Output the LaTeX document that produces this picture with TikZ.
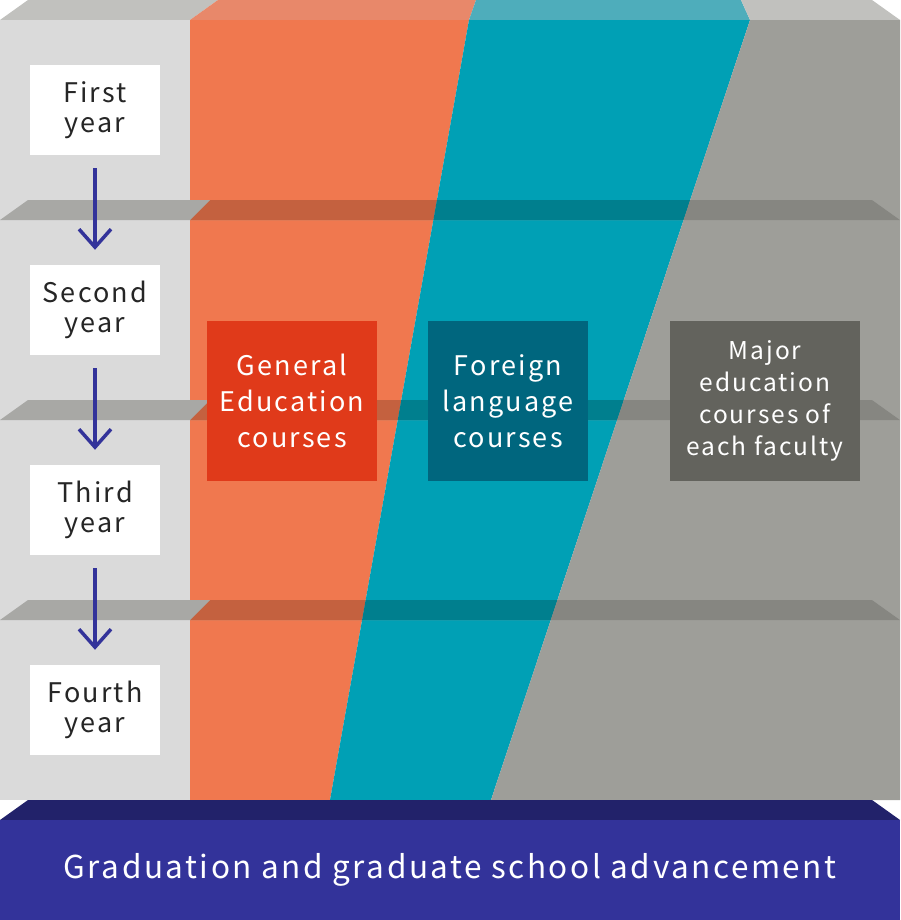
\documentclass[tikz,border=0pt]{standalone}
\usepackage{fontspec}
\setmainfont{Noto Sans CJK JP}[LetterSpace=8]
\usetikzlibrary{arrows.meta}

\definecolor{sidefront}{HTML}{DADADA}
\definecolor{sidetop}{HTML}{C1C1BE}
\definecolor{sideband}{HTML}{A8A8A5}
\definecolor{genfront}{HTML}{F0784F}
\definecolor{gentop}{HTML}{E8886A}
\definecolor{genband}{HTML}{C4613F}
\definecolor{langfront}{HTML}{00A0B5}
\definecolor{langtop}{HTML}{4EADBB}
\definecolor{langband}{HTML}{007F8E}
\definecolor{majfront}{HTML}{9E9E99}
\definecolor{majtop}{HTML}{C1C1BE}
\definecolor{majband}{HTML}{868681}
\definecolor{basetop}{HTML}{22226A}
\definecolor{basefront}{HTML}{33339A}
\definecolor{genbox}{HTML}{E03A1A}
\definecolor{langbox}{HTML}{00667E}
\definecolor{majbox}{HTML}{63635D}

\tikzset{
  yearbox/.style={fill=white, minimum width=130pt, minimum height=90pt, inner sep=0pt,
    align=center, text=black!85, font=\fontsize{27}{30}\selectfont},
  coursebox/.style={minimum height=160pt, inner sep=0pt, align=center, text=white,
    font=\fontsize{27}{36}\selectfont},
  yeararrow/.style={-{Straight Barb[length=18pt,width=32pt]}, line width=3.5pt,
    draw=basefront, shorten <=13pt, shorten >=15pt},
}

\begin{document}
\begin{tikzpicture}[x=1pt, y=-1pt]
\useasboundingbox (0,0) rectangle (900,920);
\fill[sidefront] (0,20) rectangle (190,800);
\fill[genfront] (190,20) -- (469,20) -- (330,800) -- (190,800) -- cycle;
\fill[langfront] (469,20) -- (750,20) -- (491,800) -- (330,800) -- cycle;
\fill[majfront] (750,20) -- (900,20) -- (900,800) -- (491,800) -- cycle;

\fill[sidetop] (28,0) -- (218,0) -- (190,20) -- (0,20) -- cycle;
\fill[gentop] (218,0) -- (476,0) -- (469,20) -- (190,20) -- cycle;
\fill[langtop] (476,0) -- (741,0) -- (750,20) -- (469,20) -- cycle;
\fill[majtop] (741,0) -- (872,0) -- (900,20) -- (750,20) -- cycle;

\begin{scope}
\clip (28,200) -- (872,200) -- (900,220) -- (0,220) -- cycle
      (28,400) -- (872,400) -- (900,420) -- (0,420) -- cycle
      (28,600) -- (872,600) -- (900,620) -- (0,620) -- cycle;
\fill[sideband] (0,0) rectangle (900,800);
\fill[genband] (190,20) -- (469,20) -- (330,800) -- (190,800) -- cycle;
\fill[langband] (469,20) -- (750,20) -- (491,800) -- (330,800) -- cycle;
\fill[majband] (750,20) -- (900,20) -- (900,800) -- (491,800) -- cycle;
\foreach \y in {200,400,600}
  \fill[sideband] (190,\y) -- (210,\y) -- (190,\y+20) -- cycle;
\end{scope}

\fill[basetop] (28,800) -- (872,800) -- (900,820) -- (0,820) -- cycle;
\node[fill=basefront, minimum width=900pt, minimum height=100pt, inner sep=0pt, text=white,
  font=\fontsize{31.5}{36}\selectfont] (grad) at (450,870) {Graduation and graduate school advancement};

\node[yearbox] (first) at (95,110) {First\\year};
\node[yearbox] (second) at (95,310) {Second\\year};
\node[yearbox] (third) at (95,510) {Third\\year};
\node[yearbox] (fourth) at (95,710) {Fourth\\year};
\draw[yeararrow] (first) -- (second);
\draw[yeararrow] (second) -- (third);
\draw[yeararrow] (third) -- (fourth);

\node[coursebox, fill=genbox, minimum width=170pt] (general) at (292,401) {General\\Education\\courses};
\node[coursebox, fill=langbox, minimum width=160pt] (foreign) at (508,401) {Foreign\\language\\courses};
\node[coursebox, fill=majbox, minimum width=190pt, font=\fontsize{24.5}{32}\selectfont] (major) at (765,401)
  {Major\\education\\courses of\\each faculty};
\end{tikzpicture}
\end{document}
